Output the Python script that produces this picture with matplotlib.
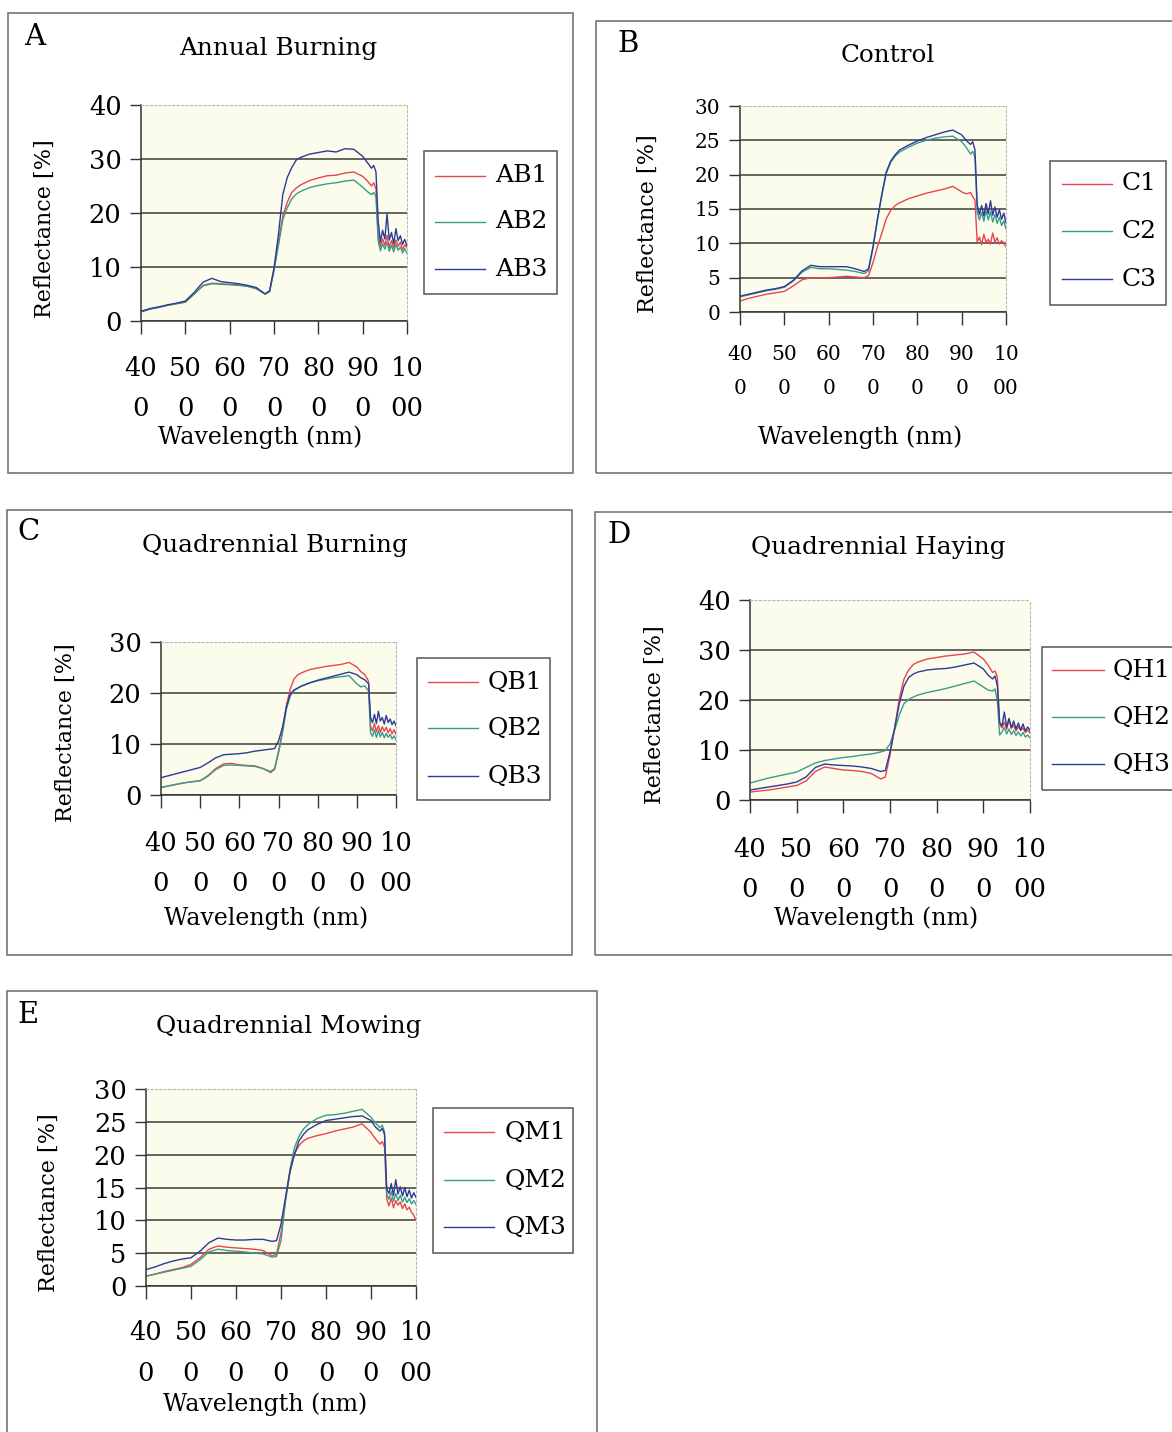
import matplotlib
matplotlib.use("Agg")
import matplotlib.pyplot as plt
from matplotlib.patches import Rectangle
from matplotlib.lines import Line2D

plt.rcParams['font.family'] = ['DejaVu Serif']

W, H = 1172, 1432

# wavelength grid (nm) shared by every spectrum
WL = [400, 420, 440, 460, 480, 500, 520, 540, 560, 580, 600, 620, 640, 660, 680,
      690, 700, 710, 720, 730, 740, 750, 760, 780, 800, 820, 840, 860, 880, 900,
      910, 920, 925, 930, 935, 940, 945, 950, 955, 960, 965, 970, 975, 980, 985,
      990, 995, 1000]

XTICKS = [400, 500, 600, 700, 800, 900, 1000]
XTICK_LABELS = ['40\n0', '50\n0', '60\n0', '70\n0', '80\n0', '90\n0', '10\n00']

# A - Annual Burning
AB1 = [1.7, 2.2, 2.6, 2.9, 3.2, 3.5, 5.0, 6.6, 7.0, 6.9, 6.8, 6.7, 6.5, 6.0, 5.0,
       5.5, 9.5, 14.5, 19.5, 22.0, 23.8, 24.6, 25.2, 26.0, 26.5, 26.9, 27.0, 27.4, 27.6, 26.8,
       26.0, 25.0, 25.6, 24.4, 15.5, 13.8, 15.2, 14.0, 15.9, 13.6, 14.9, 13.5, 15.0, 13.8, 14.6,
       13.2, 14.1, 13.6]
AB2 = [1.7, 2.2, 2.5, 2.9, 3.2, 3.5, 5.0, 6.5, 6.9, 6.8, 6.7, 6.6, 6.4, 6.0, 5.0,
       5.4, 9.3, 14.0, 18.8, 21.0, 22.6, 23.5, 24.0, 24.7, 25.1, 25.4, 25.6, 25.9, 26.1, 24.8,
       24.0, 23.4, 23.8, 23.0, 14.8, 13.0, 14.3, 13.3, 14.6, 12.9, 14.0, 12.8, 14.2, 13.1, 13.7,
       12.6, 13.4, 12.5]
AB3 = [1.8, 2.3, 2.6, 3.0, 3.3, 3.7, 5.3, 7.2, 7.9, 7.3, 7.1, 6.9, 6.6, 6.2, 5.0,
       5.6, 9.8, 16.0, 23.5, 26.6, 28.4, 29.8, 30.3, 30.9, 31.2, 31.5, 31.3, 31.9, 31.8, 30.5,
       29.4, 28.3, 28.8, 27.6, 18.5, 14.6, 16.8, 15.2, 19.8, 15.0, 16.4, 14.3, 17.1, 14.9, 15.8,
       14.2, 15.1, 13.9]

# B - Control
C1 = [1.6, 2.0, 2.3, 2.6, 2.8, 3.0, 3.8, 4.7, 5.0, 5.0, 5.0, 5.1, 5.2, 5.1, 5.0,
      5.3, 7.2, 9.5, 11.5, 13.6, 14.8, 15.5, 15.9, 16.5, 16.9, 17.3, 17.6, 17.9, 18.3, 17.5,
      17.2, 17.4, 16.8, 16.3, 10.2, 10.9, 9.8, 11.3, 10.1, 10.6, 9.9, 11.5, 10.2, 10.8, 9.9,
      10.4, 10.0, 9.5]
C2 = [2.2, 2.5, 2.8, 3.1, 3.3, 3.6, 4.5, 5.8, 6.5, 6.3, 6.3, 6.2, 6.1, 5.9, 5.6,
      6.0, 9.3, 13.4, 17.0, 20.2, 21.8, 22.7, 23.3, 24.0, 24.6, 25.0, 25.3, 25.5, 25.6, 24.8,
      24.0, 23.0, 23.4, 22.5, 14.6, 13.4, 14.5, 13.2, 14.8, 13.4, 14.6, 13.1, 14.2, 12.9, 13.8,
      12.6, 13.3, 12.1]
C3 = [2.3, 2.6, 2.9, 3.2, 3.4, 3.7, 4.6, 6.0, 6.8, 6.6, 6.6, 6.6, 6.6, 6.3, 5.9,
      6.3, 9.5, 13.5, 17.2, 20.4, 22.0, 22.9, 23.6, 24.3, 24.9, 25.4, 25.8, 26.2, 26.5, 25.8,
      25.0, 24.4, 24.8, 23.6, 15.6, 14.2, 15.5, 14.0, 15.8, 14.3, 16.2, 14.1, 15.3, 13.8, 14.9,
      13.5, 14.4, 13.0]

# C - Quadrennial Burning
QB1 = [1.5, 1.8, 2.1, 2.4, 2.6, 2.8, 3.8, 5.2, 6.1, 6.2, 5.9, 5.8, 5.7, 5.2, 4.4,
       5.0, 8.6, 12.5, 17.5, 20.8, 22.8, 23.6, 24.0, 24.6, 24.9, 25.2, 25.4, 25.6, 26.0, 25.1,
       24.2, 23.6, 23.0, 22.3, 13.5, 12.6, 14.0, 12.4, 13.6, 12.3, 13.4, 12.5, 13.3, 12.2, 13.0,
       12.0, 12.8, 11.9]
QB2 = [1.4, 1.8, 2.1, 2.4, 2.6, 2.8, 3.7, 5.0, 5.8, 5.9, 5.8, 5.7, 5.6, 5.2, 4.6,
       5.2, 8.2, 12.0, 16.8, 19.4, 20.5, 21.0, 21.4, 22.0, 22.4, 22.7, 23.0, 23.2, 23.4, 21.8,
       21.2, 21.4, 20.9, 20.4, 12.2, 11.5, 12.8, 11.3, 12.6, 11.4, 12.3, 11.2, 12.1, 11.3, 11.9,
       11.0, 11.6, 10.8]
QB3 = [3.4, 3.8, 4.2, 4.6, 5.0, 5.4, 6.3, 7.3, 7.9, 8.0, 8.1, 8.3, 8.6, 8.8, 9.0,
       9.1, 10.6, 13.2, 17.2, 19.8, 20.6, 21.0, 21.4, 22.0, 22.5, 22.9, 23.3, 23.7, 24.1, 23.6,
       23.0, 22.6, 22.2, 21.8, 15.2, 14.2, 15.8, 14.0, 16.4, 14.5, 15.2, 13.9, 15.6, 14.2, 14.9,
       13.8, 14.5, 13.6]

# D - Quadrennial Haying
QH1 = [1.6, 1.8, 2.0, 2.3, 2.6, 2.9, 3.8, 5.7, 6.6, 6.3, 6.0, 5.9, 5.7, 5.3, 4.2,
       4.6, 9.0, 14.4, 20.3, 24.2, 26.0, 27.1, 27.6, 28.2, 28.5, 28.8, 29.0, 29.2, 29.6, 28.2,
       27.0, 25.5, 25.8, 24.6, 15.2, 14.4, 15.6, 14.1, 16.2, 14.3, 15.0, 13.8, 14.7, 13.9, 14.4,
       13.5, 14.0, 13.4]
QH2 = [3.4, 3.9, 4.4, 4.8, 5.2, 5.6, 6.5, 7.4, 7.9, 8.2, 8.5, 8.7, 9.0, 9.2, 9.6,
       9.9, 11.2, 14.0, 17.0, 19.3, 20.1, 20.6, 21.0, 21.5, 21.9, 22.3, 22.8, 23.3, 23.8, 22.6,
       22.0, 21.8, 22.2, 19.8, 13.0, 13.6, 14.5, 13.2, 14.2, 13.1, 13.9, 12.9, 13.6, 12.8, 13.5,
       12.6, 13.0, 12.4]
QH3 = [2.0, 2.3, 2.6, 2.9, 3.2, 3.6, 4.6, 6.5, 7.2, 7.0, 6.9, 6.8, 6.6, 6.3, 5.7,
       5.9, 9.6, 14.4, 19.3, 22.8, 24.5, 25.2, 25.6, 26.0, 26.2, 26.3, 26.6, 27.0, 27.4, 26.2,
       25.0, 24.2, 24.8, 22.9, 15.5, 14.8, 17.6, 14.6, 16.3, 14.5, 15.8, 14.2, 15.4, 14.0, 15.2,
       13.8, 14.6, 13.9]

# E - Quadrennial Mowing
QM1 = [1.5, 1.8, 2.2, 2.5, 2.8, 3.3, 4.3, 5.6, 6.1, 5.9, 5.8, 5.7, 5.6, 5.4, 4.6,
       4.8, 8.1, 13.0, 17.3, 20.1, 21.4, 22.1, 22.5, 22.9, 23.2, 23.6, 23.9, 24.2, 24.7, 23.4,
       22.4, 21.6, 22.0, 21.2, 13.2, 12.2, 13.4, 11.9, 13.0, 12.3, 12.8, 11.8, 12.5, 11.6, 12.0,
       11.2, 10.8, 10.0]
QM2 = [1.5, 1.8, 2.1, 2.4, 2.7, 3.0, 4.0, 5.2, 5.6, 5.4, 5.3, 5.2, 5.0, 4.9, 4.4,
       4.5, 6.9, 13.0, 17.8, 21.1, 22.8, 23.9, 24.6, 25.5, 26.0, 26.1, 26.3, 26.6, 26.9, 25.7,
       24.8, 24.1, 24.5, 23.5, 14.0, 13.2, 14.4, 12.9, 14.1, 13.0, 13.8, 12.8, 13.5, 12.7, 13.3,
       12.5, 13.0, 12.4]
QM3 = [2.5, 2.9, 3.4, 3.8, 4.1, 4.3, 5.3, 6.6, 7.3, 7.1, 7.0, 7.0, 7.1, 7.1, 6.8,
       6.9, 9.4, 13.5, 17.5, 20.1, 22.1, 23.1, 23.8, 24.6, 25.2, 25.4, 25.6, 25.8, 25.9, 25.2,
       24.2, 23.6, 24.0, 23.1, 14.8, 14.1, 15.6, 13.8, 16.2, 14.0, 15.1, 13.7, 15.0, 13.6, 14.6,
       13.4, 14.2, 13.5]

COLORS = ['#e8454f', '#3a9c88', '#2c3a98']
BG = '#fcfcec'

fig = plt.figure(figsize=(W / 100, H / 100), dpi=100)


def fx(x):
    return x / W


def fy(y):
    return 1 - y / H


def draw_panel(letter, title, names, series, frame, plot, ymax, ystep,
               tick_fs, tick_pad, linesp, letter_xy, title_xy, ylab_xy, xlab_xy,
               leg_box, leg_line, leg_text_x, leg_ys):
    # outer frame of the panel
    x0, y0, x1, y1 = frame
    fig.add_artist(Rectangle((fx(x0), fy(y1)), fx(x1 - x0), (y1 - y0) / H,
                             transform=fig.transFigure, fill=False,
                             edgecolor='#6a6a6a', lw=1.1))

    px0, py0, px1, py1 = plot
    ax = fig.add_axes([fx(px0), fy(py1), fx(px1 - px0), (py1 - py0) / H])
    ax.set_facecolor(BG)
    for vals, c in zip(series, COLORS):
        ax.plot(WL, vals, color=c, lw=1.0)
    ax.set_xlim(400, 1000)
    ax.set_ylim(0, ymax)
    ax.set_xticks(XTICKS)
    ax.set_xticklabels(XTICK_LABELS, linespacing=linesp)
    yt = list(range(0, ymax + 1, ystep))
    ax.set_yticks(yt)
    ax.set_yticklabels([str(v) for v in yt])
    ax.tick_params(axis='x', length=9, width=1, pad=tick_pad, labelsize=tick_fs,
                   color='#333333')
    ax.tick_params(axis='y', length=8, width=1, pad=6, labelsize=tick_fs,
                   color='#333333')
    ax.yaxis.grid(True, color='#3c3c3c', lw=1.1)
    ax.get_ygridlines()[-1].set_visible(False)
    for s in ['top', 'right']:
        ax.spines[s].set_color('#b8b8b8')
        ax.spines[s].set_linestyle((0, (2, 2)))
        ax.spines[s].set_linewidth(0.8)
    for s in ['left', 'bottom']:
        ax.spines[s].set_color('#333333')
        ax.spines[s].set_linewidth(1.1)

    fig.text(fx(letter_xy[0]), fy(letter_xy[1]), letter, fontsize=21,
             ha='center', va='center')
    fig.text(fx(title_xy[0]), fy(title_xy[1]), title, fontsize=17.8,
             ha='center', va='center')
    fig.text(fx(ylab_xy[0]), fy(ylab_xy[1]), 'Reflectance [%]', fontsize=16,
             rotation=90, ha='center', va='center')
    fig.text(fx(xlab_xy[0]), fy(xlab_xy[1]), 'Wavelength (nm)', fontsize=17,
             ha='center', va='center')

    # legend box
    lx0, ly0, lx1, ly1 = leg_box
    fig.add_artist(Rectangle((fx(lx0), fy(ly1)), fx(lx1 - lx0), (ly1 - ly0) / H,
                             transform=fig.transFigure, fill=False,
                             edgecolor='#555555', lw=1.1))
    for name, c, ly in zip(names, COLORS, leg_ys):
        fig.add_artist(Line2D([fx(leg_line[0]), fx(leg_line[1])], [fy(ly), fy(ly)],
                              transform=fig.transFigure, color=c, lw=1.0))
        fig.text(fx(leg_text_x), fy(ly), name, fontsize=18, ha='left', va='center')
    return ax


draw_panel('A', 'Annual Burning', ['AB1', 'AB2', 'AB3'], [AB1, AB2, AB3],
           (8, 13, 573, 473), (141, 105, 407, 321), 40, 10,
           18.5, 16.2, 1.77, (35, 37), (278, 48), (45, 229), (260, 437),
           (424, 151, 557, 294), (435, 485), 495, (176, 222, 269))

draw_panel('B', 'Control', ['C1', 'C2', 'C3'], [C1, C2, C3],
           (596, 21, 1190, 473), (740, 106, 1006, 312), 30, 5,
           14.5, 14.5, 2.05, (628, 44), (888, 56), (648, 224), (860, 437),
           (1050, 161, 1166, 305), (1062, 1112), 1122, (184, 231, 279))

draw_panel('C', 'Quadrennial Burning', ['QB1', 'QB2', 'QB3'], [QB1, QB2, QB3],
           (7, 510, 572, 955), (161, 642, 396, 795), 30, 10,
           18.5, 16.9, 1.77, (28, 532), (275, 545), (66, 733), (266, 918),
           (417, 658, 550, 800), (428, 478), 488, (682, 728, 776))

draw_panel('D', 'Quadrennial Haying', ['QH1', 'QH2', 'QH3'], [QH1, QH2, QH3],
           (595, 512, 1190, 955), (750, 600, 1030, 800), 40, 10,
           18.5, 17.6, 1.77, (619, 535), (878, 547), (655, 715), (876, 918),
           (1042, 647, 1190, 790), (1052, 1104), 1113, (670, 717, 764))

draw_panel('E', 'Quadrennial Mowing', ['QM1', 'QM2', 'QM3'], [QM1, QM2, QM3],
           (7, 991, 597, 1450), (146, 1089, 416, 1286), 30, 5,
           18.5, 15.5, 1.8, (28, 1015), (289, 1027), (49, 1203), (265, 1404),
           (433, 1108, 573, 1253), (444, 494), 505, (1132, 1180, 1227))

fig.savefig('out.png', dpi=100, facecolor='white')
